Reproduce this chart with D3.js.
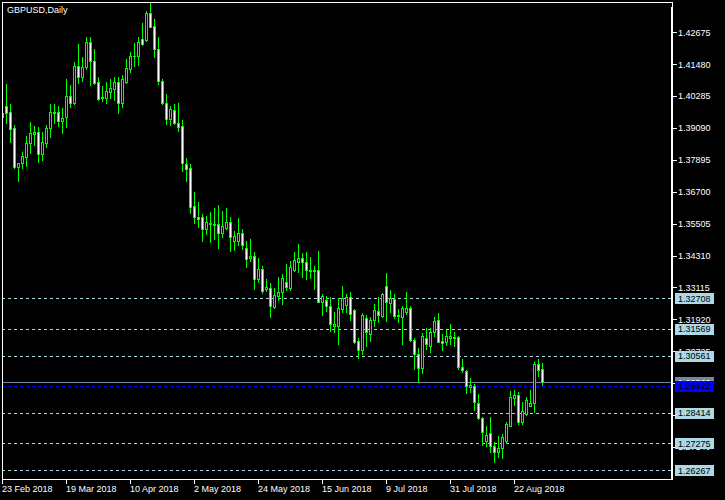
<!DOCTYPE html>
<html><head><meta charset="utf-8">
<script src="https://cdn.jsdelivr.net/npm/d3@7"></script>
<style>
body{margin:0;background:#000}
svg{display:block}
text{font-family:"Liberation Sans",Arial,sans-serif;font-size:9px}
</style>
</head><body>
<svg id="c" width="725" height="500"></svg>
<script>
const title = "GBPUSD,Daily";
const open = [1.3951,1.3991,1.3968,1.3909,1.3762,1.3777,1.3799,1.3852,1.3888,1.3893,1.3810,1.3852,1.3908,1.3968,1.3968,1.3936,1.3949,1.4028,1.4001,1.4140,
1.4101,1.4136,1.4231,1.4159,1.4081,1.4020,1.4023,1.4045,1.4056,1.4081,1.4001,1.4081,1.4131,1.4179,1.4179,1.4241,1.4240,1.4339,1.4291,1.4204,
1.4084,1.4001,1.3941,1.3976,1.3926,1.3916,1.3774,1.3759,1.3617,1.3574,1.3574,1.3532,1.3554,1.3549,1.3549,1.3514,1.3534,1.3557,1.3487,1.3487,
1.3514,1.3459,1.3422,1.3429,1.3342,1.3379,1.3307,1.3309,1.3238,1.3278,1.3293,1.3331,1.3311,1.3378,1.3408,1.3423,1.3406,1.3376,1.3373,1.3376,
1.3258,1.3263,1.3243,1.3166,1.3168,1.3231,1.3246,1.3276,1.3226,1.3111,1.3076,1.3196,1.3138,1.3188,1.3223,1.3206,1.3316,1.3253,1.3268,1.3203,
1.3201,1.3221,1.3233,1.3116,1.3063,1.3011,1.3121,1.3093,1.3143,1.3188,1.3111,1.3106,1.3121,1.3126,1.3126,1.3013,1.2998,1.2939,1.2941,1.2879,
1.2824,1.2736,1.2766,1.2716,1.2694,1.2709,1.2736,1.2794,1.2896,1.2909,1.2809,1.2836,1.2869,1.2879,1.3024,1.3008];
const high = [1.3966,1.4074,1.3999,1.3919,1.3779,1.3820,1.3879,1.3931,1.3916,1.3911,1.3894,1.3919,1.3999,1.3999,1.3991,1.3984,1.4091,1.4069,1.4156,1.4224,
1.4174,1.4249,1.4249,1.4204,1.4099,1.4066,1.4081,1.4091,1.4099,1.4099,1.4106,1.4166,1.4194,1.4229,1.4249,1.4304,1.4349,1.4379,1.4316,1.4251,
1.4094,1.4036,1.3991,1.3999,1.4004,1.3939,1.3797,1.3774,1.3669,1.3632,1.3587,1.3579,1.3594,1.3609,1.3619,1.3599,1.3609,1.3574,1.3524,1.3572,
1.3532,1.3487,1.3494,1.3444,1.3422,1.3392,1.3344,1.3327,1.3308,1.3351,1.3361,1.3398,1.3411,1.3443,1.3473,1.3441,1.3443,1.3426,1.3391,1.3448,
1.3288,1.3278,1.3276,1.3218,1.3271,1.3316,1.3286,1.3293,1.3231,1.3123,1.3216,1.3208,1.3201,1.3248,1.3276,1.3291,1.3366,1.3301,1.3286,1.3231,
1.3241,1.3293,1.3241,1.3123,1.3086,1.3141,1.3158,1.3158,1.3201,1.3216,1.3136,1.3153,1.3173,1.3146,1.3128,1.3043,1.3001,1.2971,1.2949,1.2914,
1.2826,1.2794,1.2826,1.2731,1.2756,1.2764,1.2806,1.2924,1.2926,1.2919,1.2881,1.2901,1.2929,1.3031,1.3044,1.3029];
const low = [1.3949,1.3929,1.3858,1.3758,1.3712,1.3758,1.3767,1.3814,1.3845,1.3783,1.3789,1.3837,1.3876,1.3926,1.3916,1.3891,1.3914,1.3986,1.4000,1.4076,
1.4084,1.4131,1.4069,1.4074,1.4014,1.4011,1.4004,1.4021,1.4014,1.3966,1.3986,1.4079,1.4120,1.4141,1.4146,1.4221,1.4234,1.4286,1.4174,1.4074,
1.3999,1.3924,1.3919,1.3924,1.3896,1.3749,1.3712,1.3589,1.3554,1.3539,1.3487,1.3512,1.3482,1.3494,1.3459,1.3502,1.3529,1.3449,1.3452,1.3472,
1.3454,1.3389,1.3412,1.3304,1.3332,1.3292,1.3299,1.3202,1.3236,1.3263,1.3251,1.3303,1.3301,1.3373,1.3371,1.3351,1.3343,1.3346,1.3306,1.3256,
1.3208,1.3223,1.3148,1.3146,1.3101,1.3221,1.3221,1.3191,1.3103,1.3048,1.3061,1.3093,1.3111,1.3168,1.3183,1.3201,1.3186,1.3221,1.3198,1.3181,
1.3101,1.3213,1.3111,1.3008,1.2956,1.2991,1.3081,1.3071,1.3131,1.3106,1.3078,1.3096,1.3101,1.3093,1.3008,1.2996,1.2916,1.2921,1.2851,1.2819,
1.2721,1.2719,1.2696,1.2659,1.2676,1.2674,1.2729,1.2794,1.2871,1.2801,1.2799,1.2834,1.2866,1.2844,1.2981,1.2946];
const close = [1.3964,1.3966,1.3906,1.3762,1.3777,1.3804,1.3852,1.3889,1.3893,1.3810,1.3855,1.3908,1.3968,1.3966,1.3936,1.3946,1.4028,1.4001,1.4140,1.4101,
1.4136,1.4231,1.4159,1.4079,1.4019,1.4024,1.4048,1.4058,1.4081,1.4004,1.4091,1.4134,1.4179,1.4177,1.4231,1.4224,1.4339,1.4289,1.4204,1.4084,
1.4001,1.3941,1.3979,1.3929,1.3914,1.3779,1.3757,1.3614,1.3574,1.3569,1.3529,1.3557,1.3549,1.3544,1.3517,1.3542,1.3557,1.3502,1.3504,1.3514,
1.3469,1.3419,1.3429,1.3342,1.3379,1.3297,1.3314,1.3244,1.3283,1.3293,1.3348,1.3313,1.3388,1.3413,1.3423,1.3406,1.3376,1.3373,1.3376,1.3258,
1.3278,1.3243,1.3173,1.3173,1.3233,1.3271,1.3276,1.3213,1.3108,1.3076,1.3208,1.3146,1.3188,1.3226,1.3208,1.3286,1.3256,1.3271,1.3203,1.3208,
1.3236,1.3233,1.3113,1.3063,1.3011,1.3128,1.3098,1.3143,1.3186,1.3106,1.3103,1.3131,1.3128,1.3121,1.3013,1.3001,1.2944,1.2946,1.2881,1.2821,
1.2769,1.2759,1.2719,1.2694,1.2709,1.2751,1.2799,1.2901,1.2909,1.2806,1.2849,1.2889,1.2879,1.3026,1.3004,1.2956];

const xTickIndex = [0,16,32,48,64,80,96,112,128];
const xTickLabels = ["23 Feb 2018","19 Mar 2018","10 Apr 2018","2 May 2018","24 May 2018","15 Jun 2018","9 Jul 2018","31 Jul 2018","22 Aug 2018"];
const yTickValues = [1.42675,1.41480,1.40285,1.39090,1.37895,1.36700,1.35505,1.34310,1.33115,1.31920,1.30725,1.29530,1.28335,1.27140];
const levelLines = [1.32708,1.31569,1.30561,1.28414,1.27275,1.26267];
const blueLine = 1.29422;

const svg = d3.select("#c").attr("shape-rendering","crispEdges");
svg.append("rect").attr("width",725).attr("height",500).attr("fill","#000");

const n = close.length;
const x = d3.scaleLinear().domain([0, n-1]).range([2, 2 + 4*(n-1)]);
const y = d3.scaleLinear().domain([1.26267, 1.42675]).range([470.3, 32.3]);
const ry = v => Math.round(y(v));

const plotLeft = 2, plotRight = 672, plotTop = 2, plotBottom = 479;

svg.append("clipPath").attr("id","pc").append("rect")
  .attr("x",plotLeft+1).attr("y",plotTop+1).attr("width",plotRight-plotLeft-1).attr("height",plotBottom-plotTop-1);
const plot = svg.append("g").attr("clip-path","url(#pc)");

// level lines
const lineG = plot.append("g");
levelLines.forEach(v=>{
  lineG.append("line").attr("x1",plotLeft).attr("x2",plotRight).attr("y1",ry(v)+0.5).attr("y2",ry(v)+0.5)
    .attr("stroke","#add8e6").attr("stroke-dasharray","3,3");
});
const bid = close[n-1];
lineG.append("line").attr("x1",plotLeft).attr("x2",plotRight).attr("y1",ry(bid)+0.5).attr("y2",ry(bid)+0.5)
  .attr("stroke","#778899");
lineG.append("line").attr("x1",plotLeft).attr("x2",plotRight).attr("y1",ry(blueLine)+0.5).attr("y2",ry(blueLine)+0.5)
  .attr("stroke","#0000ff").attr("stroke-dasharray","3,3");

// candles
const data = d3.range(n).map(i=>({i,o:open[i],h:high[i],l:low[i],c:close[i]}));
const cg = plot.append("g").selectAll("g").data(data).join("g");
cg.append("rect")
  .attr("x",d=>x(d.i)).attr("width",1)
  .attr("y",d=>ry(d.h)).attr("height",d=>ry(d.l)-ry(d.h)+1)
  .attr("fill","#00ff00");
cg.append("rect")
  .attr("x",d=>x(d.i)-1).attr("width",3)
  .attr("y",d=>ry(Math.max(d.o,d.c))).attr("height",d=>ry(Math.min(d.o,d.c))-ry(Math.max(d.o,d.c))+1)
  .attr("fill","#00ff00");
cg.filter(d=>ry(Math.min(d.o,d.c))-ry(Math.max(d.o,d.c))>1).append("rect")
  .attr("x",d=>x(d.i)).attr("width",1)
  .attr("y",d=>ry(Math.max(d.o,d.c))+1).attr("height",d=>ry(Math.min(d.o,d.c))-ry(Math.max(d.o,d.c))-1)
  .attr("fill",d=>d.c>d.o?"#000000":"#ffffff");

// frame
svg.append("rect").attr("x",plotLeft+0.5).attr("y",plotTop+0.5)
  .attr("width",plotRight-plotLeft).attr("height",plotBottom-plotTop)
  .attr("fill","none").attr("stroke","#fff");
svg.append("rect").attr("x",plotRight-1).attr("y",7).attr("width",2).attr("height",plotBottom-7+1).attr("fill","#fff");

// title
svg.append("text").attr("x",7).attr("y",13).attr("fill","#fff").text(title);

// price label boxes positions (used to know which tick labels are fully hidden)
const bid5 = +bid.toFixed(5);
const boxValues = levelLines.concat([bid5, blueLine]);
const fullyHidden = v => boxValues.some(b => Math.abs(ry(v) - ry(b)) <= 2);

// right axis ticks & labels
const yt = svg.append("g");
yTickValues.forEach(v=>{
  yt.append("rect").attr("x",plotRight+1).attr("y",ry(v)).attr("width",4).attr("height",1).attr("fill","#fff");
  if (!fullyHidden(v))
    yt.append("text").attr("x",678).attr("y",y(v)+3.4).attr("fill","#fff").text(d3.format(".5f")(v));
});

// bottom axis
const xt = svg.append("g");
xTickIndex.forEach((idx,k)=>{
  xt.append("rect").attr("x",x(idx)).attr("y",plotBottom).attr("width",1).attr("height",5).attr("fill","#fff");
  xt.append("text").attr("x",x(idx)).attr("y",492).attr("fill","#fff").text(xTickLabels[k]);
});

function label(v, fill, color){
  const g = svg.append("g");
  g.append("rect").attr("x",675).attr("y",ry(v)-5).attr("width",39).attr("height",11).attr("fill",fill);
  g.append("text").attr("x",678).attr("y",y(v)+3.4).attr("fill",color).text(d3.format(".5f")(v));
}
levelLines.forEach(v=>label(v,"#add8e6","#000"));
label(bid,"#778899","#fff");
label(blueLine,"#0000ff","#000");
</script>
</body></html>
